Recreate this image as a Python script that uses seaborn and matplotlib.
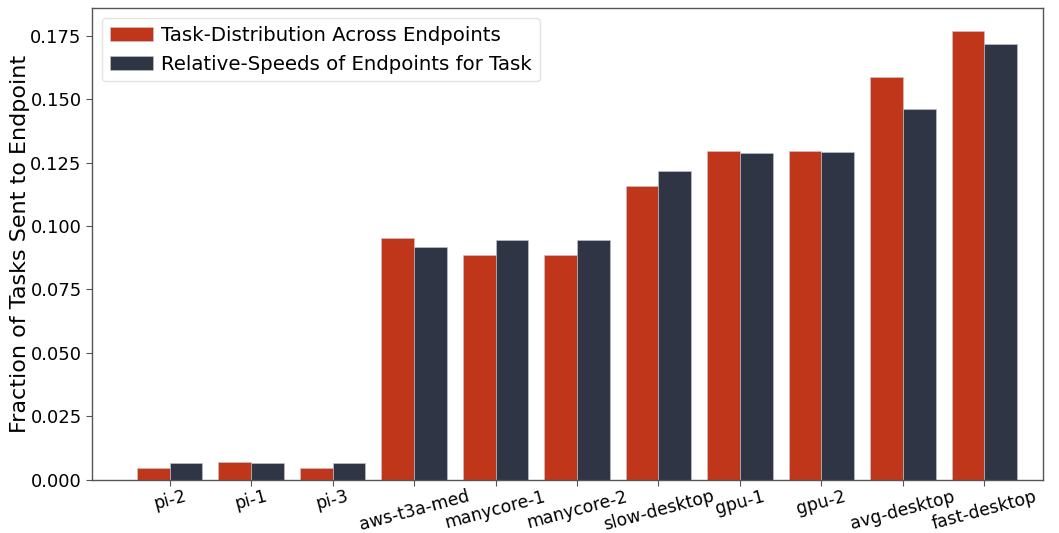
import matplotlib
matplotlib.use("Agg")
import matplotlib.pyplot as plt
import pandas as pd
import seaborn as sns

endpoints = ["pi-2", "pi-1", "pi-3", "aws-t3a-med", "manycore-1", "manycore-2",
             "slow-desktop", "gpu-1", "gpu-2", "avg-desktop", "fast-desktop"]
task_distribution = [0.0047, 0.0071, 0.0047, 0.0954, 0.0887, 0.0887,
                     0.1159, 0.1297, 0.1297, 0.1589, 0.1770]
relative_speeds = [0.0067, 0.0067, 0.0067, 0.0919, 0.0946, 0.0946,
                   0.1218, 0.1289, 0.1293, 0.1463, 0.1719]
series_names = ["Task-Distribution Across Endpoints",
                "Relative-Speeds of Endpoints for Task"]
colors = ["#C0361A", "#2F3545"]

df = pd.DataFrame({
    "endpoint": endpoints * 2,
    "fraction": task_distribution + relative_speeds,
    "series": [series_names[0]] * len(endpoints) + [series_names[1]] * len(endpoints),
})

sns.set_style("white")
plt.rcParams["font.family"] = ["DejaVu Sans"]
plt.rcParams["text.color"] = "black"
plt.rcParams["axes.labelcolor"] = "black"
plt.rcParams["xtick.color"] = "black"
plt.rcParams["ytick.color"] = "black"

fig, ax = plt.subplots(figsize=(10.59, 5.33), dpi=100)
sns.barplot(data=df, x="endpoint", y="fraction", hue="series",
            palette=colors, saturation=1, width=0.8, ax=ax,
            edgecolor="#c8c8d0", linewidth=0.4, errorbar=None)

ax.set_xlim(-0.95, 10.72)
ax.set_ylim(0, 0.186)
ax.set_yticks([0.0, 0.025, 0.05, 0.075, 0.1, 0.125, 0.15, 0.175])
ax.set_yticklabels([f"{v:.3f}" for v in ax.get_yticks()], fontsize=13)
ax.set_xlabel("")
ax.set_ylabel("Fraction of Tasks Sent to Endpoint", fontsize=16, labelpad=0.5)
plt.setp(ax.get_xticklabels(), rotation=15, fontsize=12.4)
ax.tick_params(axis="both", which="major", length=4, width=0.8,
               color="#555555", bottom=True, left=True)
ax.tick_params(axis="x", pad=1.5)
for s in ax.spines.values():
    s.set_color("#555555")
    s.set_linewidth(1.0)

leg = ax.legend(loc="upper left", fontsize=14.2, frameon=True,
                handlelength=2.2, handletextpad=0.4)
leg.get_frame().set_edgecolor("#dddddd")
leg.set_title(None)

fig.subplots_adjust(left=0.087, right=0.985, top=0.985, bottom=0.1)
fig.savefig("out.png", dpi=100)
